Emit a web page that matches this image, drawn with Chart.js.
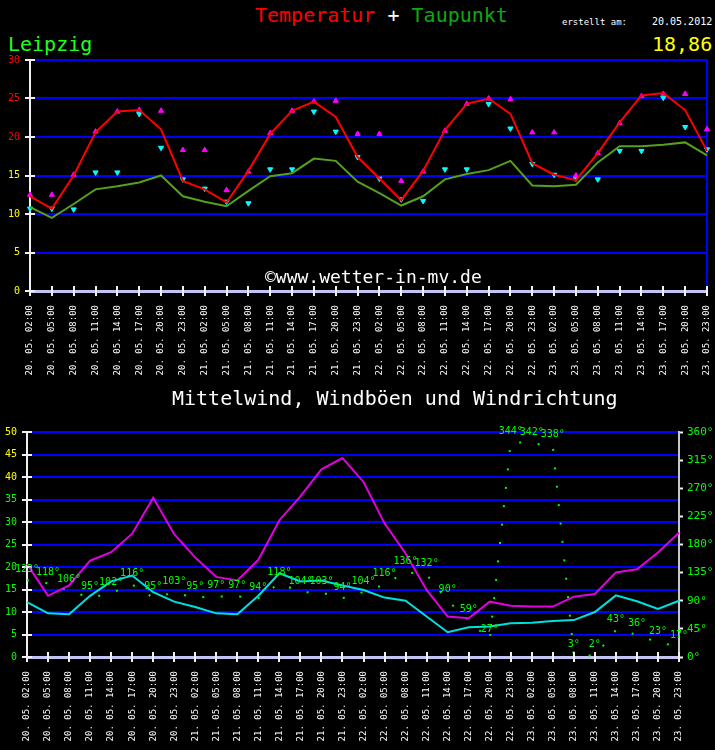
<!DOCTYPE html>
<html>
<head>
<meta charset="utf-8">
<script src="https://cdn.jsdelivr.net/npm/chart.js@4/dist/chart.umd.min.js"></script>
<style>
  html, body { margin:0; padding:0; background:#000; }
  body { width:715px; height:750px; position:relative; overflow:hidden; font-family:"DejaVu Sans Mono", monospace; }
  .t { position:absolute; white-space:pre; }
  canvas { position:absolute; left:0; }
</style>
</head>
<body>
<div class="t" style="left:255px;top:5px;font-size:20px;line-height:20px;"><span style="color:#ff0000">Temperatur</span><span style="color:#ffffff"> + </span><span style="color:#10a810">Taupunkt</span></div>
<div class="t" style="left:562px;top:17px;font-size:9px;line-height:10px;color:#fff;">erstellt am:</div>
<div class="t" style="left:652px;top:17px;font-size:10px;line-height:10px;color:#fff;">20.05.2012</div>
<div class="t" style="left:8px;top:34px;font-size:20px;line-height:20px;color:#20ff20;">Leipzig</div>
<div class="t" style="left:652px;top:34px;font-size:20px;line-height:20px;color:#ffff00;">18,86</div>
<canvas id="c1" width="715" height="360" style="top:50px"></canvas>
<div class="t" style="left:265px;top:267px;font-size:18px;line-height:20px;color:#fff;">©www.wetter-in-mv.de</div>
<div class="t" style="left:172px;top:388px;font-size:20px;line-height:20px;color:#fff;">Mittelwind, Windböen und Windrichtung</div>
<canvas id="c2" width="715" height="330" style="top:420px"></canvas>
<script>
// ---- data ----
const days  = ['20. 05.', '21. 05.', '22. 05.', '23. 05.'];
const hours = ['02:00', '05:00', '08:00', '11:00', '14:00', '17:00', '20:00', '23:00'];

const temperature = [12.3,10.7,15.0,20.6,23.3,23.5,21.0,14.3,13.2,11.5,15.6,20.4,23.4,24.6,22.6,17.4,
                     14.6,11.8,15.6,20.9,24.3,25.0,23.0,16.6,15.1,14.4,17.9,21.9,25.4,25.7,23.5,18.2];
const dewPoint    = [10.9,9.5,11.3,13.2,13.6,14.1,15.0,12.3,11.6,11.0,13.0,14.9,15.3,17.2,16.9,14.2,
                     12.7,11.1,12.3,14.5,15.2,15.7,16.9,13.7,13.6,13.8,16.7,18.8,18.8,19.0,19.3,17.6];
const tempUp      = [12.5,12.5,15.1,20.7,23.3,23.5,23.4,18.3,18.3,13.1,15.5,20.5,23.4,24.6,24.7,20.4,
                     20.4,14.3,15.5,20.8,24.3,25.0,24.9,20.6,20.6,15.0,17.9,21.8,25.3,25.6,25.6,21.0];
const tempDown    = [10.7,10.7,10.6,15.4,15.4,23.0,18.6,14.5,13.3,11.6,11.4,15.8,15.8,23.3,20.7,17.4,
                     14.6,11.9,11.7,15.8,15.8,24.3,21.1,16.5,15.1,14.6,14.5,18.2,18.2,25.1,21.3,18.4];

const windGust = [20.7,13.6,15.9,21.4,23.3,27.4,35.4,27.3,22.1,17.8,17.0,21.6,30.4,35.7,41.7,44.2,
                  38.9,29.7,23.0,14.9,9.0,8.6,12.3,11.4,11.2,11.2,13.4,14.0,18.8,19.5,23.2,27.6];
const windMean = [12.2,9.7,9.5,13.6,16.8,18.1,14.4,12.3,11.1,9.7,9.5,13.6,18.6,16.8,17.0,15.9,
                  14.9,13.2,12.5,9.0,5.5,6.6,6.8,7.5,7.6,8.0,8.2,10.0,13.7,12.4,10.7,12.5];
const windDir  = [123,118,106,95,102,116,95,103,95,97,97,94,118,104,103,94,
                  104,116,136,132,90,59,27,344,342,338,3,2,43,36,23,17];

const labels = [];
days.forEach(d => hours.forEach(h => labels.push(d + ' ' + h)));

// ---- helpers ----
const MONO = '"DejaVu Sans Mono", monospace';
const BLUE = '#0000ff';

const crossTicks = {
  id: 'crossTicks',
  afterDatasetsDraw(chart) {
    const ctx = chart.ctx, x = chart.scales.x, y = chart.scales.y;
    ctx.save();
    ctx.strokeStyle = '#f0f0f0';
    ctx.lineWidth = 2;
    x.ticks.forEach((t, i) => {
      const px = Math.round(x.getPixelForTick(i));
      ctx.beginPath(); ctx.moveTo(px, x.top - 5); ctx.lineTo(px, x.top + 5); ctx.stroke();
    });
    y.ticks.forEach((t, i) => {
      const py = Math.round(y.getPixelForTick(i));
      ctx.beginPath(); ctx.moveTo(y.right - 5, py); ctx.lineTo(y.right + 5, py); ctx.stroke();
    });
    ctx.restore();
  }
};

const dirLabels = {
  id: 'dirLabels',
  afterDatasetsDraw(chart) {
    const idx = chart.data.datasets.findIndex(d => d.isDir);
    if (idx < 0) return;
    const meta = chart.getDatasetMeta(idx);
    const ctx = chart.ctx;
    ctx.save();
    ctx.font = '10px ' + MONO;
    ctx.fillStyle = '#00ff00';
    ctx.textAlign = 'center';
    ctx.textBaseline = 'middle';
    meta.data.forEach((pt, i) => ctx.fillText(windDir[i] + '°', pt.x, pt.y - 11));
    ctx.restore();
  }
};

const noPadH = s => { s.paddingLeft = 0; s.paddingRight = 0; };
const noPadV = s => { s.paddingTop = 0; s.paddingBottom = 0; };

function xAxis(height) {
  return {
    type: 'category',
    offset: false,
    grid: { display: false },
    border: { display: true, color: '#c4c4f4', width: 3 },
    ticks: {
      autoSkip: false, minRotation: 90, maxRotation: 90, padding: 6,
      color: '#ffffff', font: { family: MONO, size: 9 }
    },
    afterFit: s => { s.height = height; noPadH(s); }
  };
}

// ---- chart 1: Temperatur + Taupunkt ----
new Chart(document.getElementById('c1'), {
  type: 'line',
  data: {
    labels: labels,
    datasets: [
      { data: temperature, borderColor: '#ff0000', borderWidth: 2, pointRadius: 0, tension: 0 },
      { data: dewPoint, borderColor: '#55a01e', borderWidth: 2, pointRadius: 0, tension: 0 },
      { data: tempUp, showLine: false, pointStyle: 'triangle', pointRadius: 3,
        backgroundColor: '#ff00ff', borderColor: '#ff00ff', borderWidth: 1 },
      { data: tempDown, showLine: false, pointStyle: 'triangle', rotation: 180, pointRadius: 3,
        backgroundColor: '#00ffff', borderColor: '#00ffff', borderWidth: 1 }
    ]
  },
  options: {
    responsive: false, animation: false, devicePixelRatio: 1,
    layout: { padding: { top: 10, right: 0, left: 0, bottom: 0 } },
    plugins: { legend: { display: false }, tooltip: { enabled: false } },
    scales: {
      x: xAxis(119),
      y: {
        position: 'left', min: 0, max: 30,
        grid: { color: BLUE, lineWidth: 2, drawTicks: false },
        border: { color: '#f0f0f0', width: 2 },
        ticks: { stepSize: 5, padding: 10, font: { family: MONO, size: 10 },
                 color: c => c.tick.value >= 20 ? '#ff0000' : '#ffff00' },
        afterFit: s => { s.width = 30; noPadV(s); }
      },
      yR: {
        position: 'right', min: 0, max: 30,
        grid: { drawOnChartArea: false, drawTicks: false },
        border: { color: BLUE, width: 2 },
        ticks: { display: false },
        afterFit: s => { s.width = 8; noPadV(s); }
      }
    }
  },
  plugins: [crossTicks]
});

// ---- chart 2: Mittelwind, Windböen und Windrichtung ----
new Chart(document.getElementById('c2'), {
  type: 'line',
  data: {
    labels: labels,
    datasets: [
      { data: windGust, borderColor: '#e000e0', borderWidth: 2, pointRadius: 0, tension: 0, yAxisID: 'y' },
      { data: windMean, borderColor: '#00e0e0', borderWidth: 2, pointRadius: 0, tension: 0, yAxisID: 'y' },
      { data: windDir, isDir: true, borderColor: '#00ff00', borderWidth: 2, borderDash: [2, 16.5],
        borderCapStyle: 'butt', pointRadius: 0, tension: 0, yAxisID: 'y2' }
    ]
  },
  options: {
    responsive: false, animation: false, devicePixelRatio: 1,
    layout: { padding: { top: 12, right: 0, left: 0, bottom: 0 } },
    plugins: { legend: { display: false }, tooltip: { enabled: false } },
    scales: {
      x: xAxis(93),
      y: {
        position: 'left', min: 0, max: 50,
        grid: { color: BLUE, lineWidth: 2, drawTicks: false },
        border: { color: '#f0f0f0', width: 2 },
        ticks: { stepSize: 5, padding: 10, font: { family: MONO, size: 10 },
                 color: c => c.tick.value >= 40 ? '#ffff00' : '#00ff00' },
        afterFit: s => { s.width = 27; noPadV(s); }
      },
      y2: {
        position: 'right', min: 0, max: 360,
        grid: { drawOnChartArea: false, drawTicks: true, tickLength: 4, tickColor: '#f0f0f0', tickWidth: 2 },
        border: { color: '#c8c8c8', width: 2 },
        ticks: { stepSize: 45, padding: 4, font: { family: MONO, size: 11 }, color: '#00ff00',
                 callback: v => v + '°' },
        afterFit: s => { s.width = 36; noPadV(s); }
      }
    }
  },
  plugins: [crossTicks, dirLabels]
});
</script>
</body>
</html>
